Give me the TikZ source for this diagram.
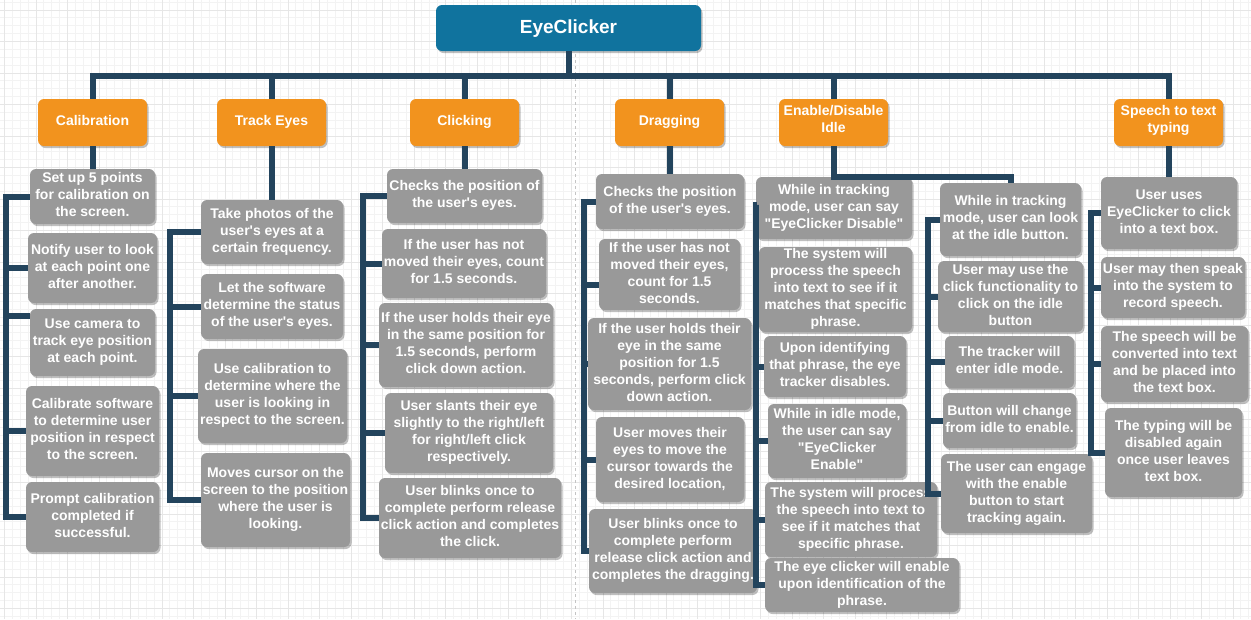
\documentclass[tikz,border=0pt]{standalone}
\usepackage{fontspec}
\setmainfont{Liberation Sans}[Ligatures=TeXOff]
\usetikzlibrary{shadows}

\definecolor{rootc}{HTML}{10739E}
\definecolor{catc}{HTML}{F2931E}
\definecolor{itemc}{HTML}{999999}
\definecolor{linec}{HTML}{23445D}
\definecolor{gridminor}{HTML}{F3F3F3}
\definecolor{gridmajor}{HTML}{E6E6E6}
\definecolor{pagebreak}{HTML}{C4C4C4}

% fixed line boxes so that text is centred like a line-height layout
\newcommand\topstrut{\rule{0pt}{13pt}}
\newcommand\catbotstrut{\rule[-6.5pt]{0pt}{6.5pt}}
\newcommand\itembotstrut{\rule[-3.5pt]{0pt}{3.5pt}}
\newcommand\rootstrut{\rule[-5.4pt]{0pt}{22.4pt}}

% box given by its corners: style, name, x1, y1, x2, y2, text
\newcommand\mkbox[7]{%
  \node[#1, minimum width={(#5-#3)*1pt}, minimum height={(#6-#4)*1pt}]
    (#2) at ({(#3+#5)/2},{(#4+#6)/2}) {#7};}

\begin{document}
\begin{tikzpicture}[x=1pt,y=-1pt,
  basebox/.style={rounded corners=6pt, inner sep=0pt, align=center, text=white,
    font=\bfseries\fontsize{14}{17}\selectfont,
    drop shadow={shadow xshift=1.5pt, shadow yshift=-2pt, opacity=0.25, fill=black}},
  rootbox/.style={basebox, fill=rootc, font=\bfseries\fontsize{19}{23}\selectfont,
    execute at begin node=\rootstrut},
  catbox/.style={basebox, fill=catc,
    execute at begin node=\topstrut, execute at end node=\catbotstrut},
  itembox/.style={basebox, fill=itemc,
    execute at begin node=\topstrut, execute at end node=\itembotstrut},
  link/.style={draw=linec, line width=6pt},
  minorline/.style={draw=gridminor, line width=0.8pt},
  majorline/.style={draw=gridmajor, line width=0.9pt}]

\useasboundingbox (0,0) rectangle (1251,619);
\fill[white] (0,0) rectangle (1251,619);

% background grid
\foreach \k in {0,...,158} \draw[minorline] ({4.5+\k*7.875},0) -- ({4.5+\k*7.875},619);
\foreach \k in {0,...,78} \draw[minorline] (0,{2.125+\k*7.875}) -- (1251,{2.125+\k*7.875});
\foreach \k in {0,...,39} \draw[majorline] ({4.5+\k*31.5},0) -- ({4.5+\k*31.5},619);
\foreach \k in {0,...,19} \draw[majorline] (0,{10+\k*31.5}) -- (1251,{10+\k*31.5});

% page break
\draw[pagebreak, line width=1pt, dash pattern=on 3pt off 3pt] (575,0) -- (575,619);

% root and categories
\mkbox{rootbox}{root}{436}{5}{701}{51}{EyeClicker}
\mkbox{catbox}{cal}{38}{99}{147}{146}{Calibration}
\mkbox{catbox}{trk}{217}{99}{326}{146}{Track Eyes}
\mkbox{catbox}{clk}{410}{99}{519}{146}{Clicking}
\mkbox{catbox}{drg}{615}{99}{724}{146}{Dragging}
\mkbox{catbox}{ena}{779}{99}{888}{146}{Enable/Disable\\Idle}
\mkbox{catbox}{spc}{1114}{99}{1223}{146}{Speech to text\\typing}

% calibration
\mkbox{itembox}{g1}{30}{169}{155}{224}{Set up 5 points\\for calibration on\\the screen.}
\mkbox{itembox}{g2}{28}{233}{157}{303}{Notify user to look\\at each point one\\after another.}
\mkbox{itembox}{g3}{30}{309}{155}{376}{Use camera to\\track eye position\\at each point.}
\mkbox{itembox}{g4}{26}{386}{159}{476}{Calibrate software\\to determine user\\position in respect\\to the screen.}
\mkbox{itembox}{g5}{26}{482}{159}{552}{Prompt calibration\\completed if\\successful.}

% track eyes
\mkbox{itembox}{t1}{201}{200}{343}{264}{Take photos of the\\user's eyes at a\\certain frequency.}
\mkbox{itembox}{t2}{201}{274}{343}{339}{Let the software\\determine the status\\of the user's eyes.}
\mkbox{itembox}{t3}{198}{349}{347}{443}{Use calibration to\\determine where the\\user is looking in\\respect to the screen.}
\mkbox{itembox}{t4}{201}{453}{350}{547}{Moves cursor on the\\screen to the position\\where the user is\\looking.}

% clicking
\mkbox{itembox}{c1}{387}{169}{542}{223}{Checks the position of\\the user's eyes.}
\mkbox{itembox}{c2}{382}{229}{546}{298}{If the user has not\\moved their eyes, count\\for 1.5 seconds.}
\mkbox{itembox}{c3}{379}{303}{553}{387}{If the user holds their eye\\in the same position for\\1.5 seconds, perform\\click down action.}
\mkbox{itembox}{c4}{385}{393}{553}{473}{User slants their eye\\slightly to the right/left\\for right/left click\\respectively.}
\mkbox{itembox}{c5}{379}{478}{561}{558}{User blinks once to\\complete perform release\\click action and completes\\the click.}

% dragging
\mkbox{itembox}{d1}{596}{174}{744}{229}{Checks the position\\of the user's eyes.}
\mkbox{itembox}{d2}{599}{239}{740}{310}{If the user has not\\moved their eyes,\\count for 1.5\\seconds.}
\mkbox{itembox}{d3}{588}{318}{751}{410}{If the user holds their\\eye in the same\\position for 1.5\\seconds, perform click\\down action.}
\mkbox{itembox}{d4}{596}{417}{744}{502}{User moves their\\eyes to move the\\cursor towards the\\desired location,}
\mkbox{itembox}{d5}{589}{509}{757}{593}{User blinks once to\\complete perform\\release click action and\\completes the dragging.}

% enable / disable by voice
\mkbox{itembox}{e1}{756}{177}{912}{239}{While in tracking\\mode, user can say\\"EyeClicker Disable"}
\mkbox{itembox}{e2}{759}{247}{912}{332}{The system will\\process the speech\\into text to see if it\\matches that specific\\phrase.}
\mkbox{itembox}{e3}{764}{336}{906}{397}{Upon identifying\\that phrase, the eye\\tracker disables.}
\mkbox{itembox}{e4}{768}{404}{906}{478}{While in idle mode,\\the user can say\\"EyeClicker\\Enable"}
\mkbox{itembox}{e5}{765}{482}{937}{557}{The system will process\\the speech into text to\\see if it matches that\\specific phrase.}
\mkbox{itembox}{e6}{765}{558}{959}{612}{The eye clicker will enable\\upon identification of the\\phrase.}

% idle button
\mkbox{itembox}{f1}{940}{183}{1081}{256}{While in tracking\\mode, user can look\\at the idle button.}
\mkbox{itembox}{f2}{938}{261}{1083}{332}{User may use the\\click functionality to\\click on the idle\\button}
\mkbox{itembox}{f3}{945}{336}{1074}{388}{The tracker will\\enter idle mode.}
\mkbox{itembox}{f4}{943}{393}{1076}{448}{Button will change\\from idle to enable.}
\mkbox{itembox}{f5}{941}{454}{1092}{533}{The user can engage\\with the enable\\button to start\\tracking again.}

% speech to text
\mkbox{itembox}{s1}{1101}{177}{1237}{249}{User uses\\EyeClicker to click\\into a text box.}
\mkbox{itembox}{s2}{1101}{257}{1245}{318}{User may then speak\\into the system to\\record speech.}
\mkbox{itembox}{s3}{1101}{326}{1248}{402}{The speech will be\\converted into text\\and be placed into\\the text box.}
\mkbox{itembox}{s4}{1105}{408}{1242}{497}{The typing will be\\disabled again\\once user leaves\\text box.}

% connector helpers
\coordinate (bar) at (0,75.5);
\coordinate (enabend) at (0,176.5);
\coordinate (calbus) at (6,0);
\coordinate (trkbus) at (170,0);
\coordinate (clkbus) at (363,0);
\coordinate (drgbus) at (584,0);
\coordinate (enabus) at (755.5,0);
\coordinate (idlbus) at (927.5,0);
\coordinate (spcbus) at (1090.5,0);
\coordinate (g3in) at ([yshift=26.5pt]g3.west);
\coordinate (d2in) at ([yshift=-10.5pt]d2.west);
\coordinate (e1in) at ([yshift=3pt]e1.west);

% top level
\draw[link] (root.south) -- (root.south |- bar);
\draw[link] (cal.north) -- (cal.north |- bar) -- (spc.north |- bar) -- (spc.north);
\foreach \n in {trk,clk,drg,ena} \draw[link] (\n.north) -- (\n.north |- bar);

% category to first item
\draw[link] (cal.south) -- (cal.south |- g1.north);
\draw[link] (trk.south) -- (trk.south |- t1.north);
\draw[link] (clk.south) -- (clk.south |- c1.north);
\draw[link] (drg.south) -- (drg.south |- d1.north);
\draw[link] (ena.south) -- (ena.south |- enabend) -| (f1.north);
\draw[link] (spc.south) -- (spc.south |- s1.north);

% side buses
\draw[link] (g1.west) -- (calbus |- g1.west) -- (calbus |- g5.west) -- (g5.west);
\draw[link] (g2.west) -- (calbus |- g2.west);
\draw[link] (g3in) -- (calbus |- g3in);
\draw[link] (g4.west) -- (calbus |- g4.west);

\draw[link] (t1.west) -- (trkbus |- t1.west) -- (trkbus |- t4.west) -- (t4.west);
\foreach \n in {t2,t3} \draw[link] (\n.west) -- (trkbus |- \n.west);

\draw[link] (c1.west) -- (clkbus |- c1.west) -- (clkbus |- c5.west) -- (c5.west);
\foreach \n in {c2,c3,c4} \draw[link] (\n.west) -- (clkbus |- \n.west);

\draw[link] (d1.west) -- (drgbus |- d1.west) -- (drgbus |- d5.west) -- (d5.west);
\draw[link] (d2in) -- (drgbus |- d2in);
\foreach \n in {d3,d4} \draw[link] (\n.west) -- (drgbus |- \n.west);

\draw[link] (e1in) -- (enabus |- e1in) -- (enabus |- e6.west) -- (e6.west);
\foreach \n in {e2,e3,e4,e5} \draw[link] (\n.west) -- (enabus |- \n.west);

\draw[link] (f1.west) -- (idlbus |- f1.west) -- (idlbus |- f5.west) -- (f5.west);
\foreach \n in {f2,f3,f4} \draw[link] (\n.west) -- (idlbus |- \n.west);

\draw[link] (s1.west) -- (spcbus |- s1.west) -- (spcbus |- s4.west) -- (s4.west);
\foreach \n in {s2,s3} \draw[link] (\n.west) -- (spcbus |- \n.west);

\end{tikzpicture}
\end{document}
